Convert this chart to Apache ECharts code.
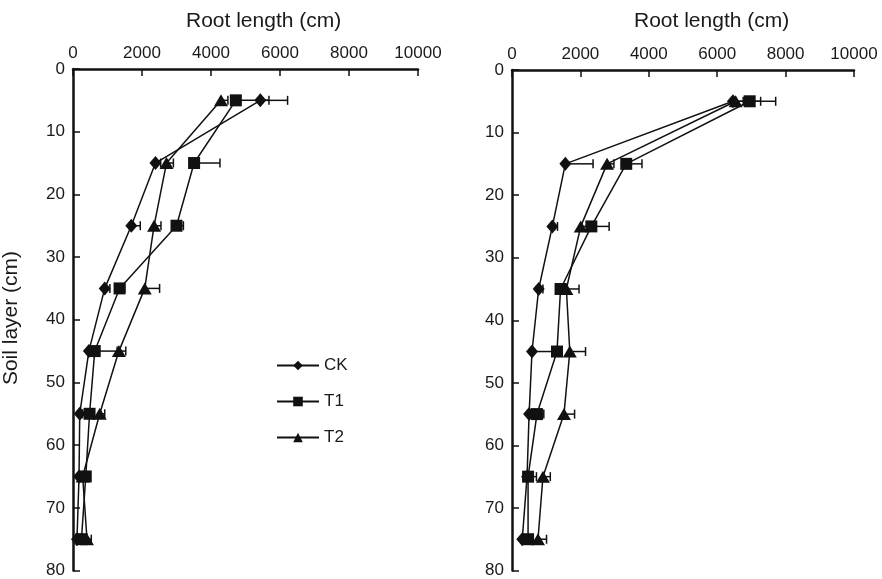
<!DOCTYPE html>
<html>
<head>
<meta charset="utf-8">
<script src="https://cdn.jsdelivr.net/npm/echarts@6/dist/echarts.min.js"></script>
<style>
html, body { margin: 0; padding: 0; background: #fff; }
#chart { width: 882px; height: 579px; }
</style>
</head>
<body>
<div id="chart"></div>
<script>
// soil depth (cm), midpoints of each layer
var depths = [5, 15, 25, 35, 45, 55, 65, 75];

// left panel: root length (cm)
var ckLeft = [5430, 2390, 1690, 920, 460, 195, 175, 115];
var t1Left = [4720, 3510, 3000, 1350, 630, 480, 370, 245];
var t2Left = [4290, 2710, 2350, 2080, 1330, 775, 280, 405];
var ckLeftSd = [790, 150, 260, 150, 150, 80, 60, 50];
var t1LeftSd = [960, 750, 200, 150, 650, 120, 80, 60];
var t2LeftSd = [200, 200, 200, 430, 200, 145, 80, 125];

// right panel: root length (cm)
var ckRight = [6460, 1560, 1180, 780, 585, 500, 440, 300];
var t1Right = [6950, 3340, 2320, 1420, 1315, 730, 470, 470];
var t2Right = [6540, 2780, 2010, 1590, 1690, 1520, 905, 760];
var ckRightSd = [300, 810, 150, 125, 700, 60, 60, 50];
var t1RightSd = [760, 460, 520, 150, 150, 200, 245, 80];
var t2RightSd = [730, 200, 200, 370, 460, 310, 215, 250];

var FONT = "Liberation Sans";
var chart = echarts.init(document.getElementById("chart"));

function pairs(vals) {
  return vals.map(function (v, i) { return [v, depths[i]]; });
}
function errPairs(vals, sd) {
  return vals.map(function (v, i) { return [v, depths[i], v + sd[i]]; });
}

function xAxisFor(idx) {
  return {
    gridIndex: idx,
    type: "value",
    position: "top",
    min: 0,
    max: 10000,
    interval: 2000,
    splitLine: { show: false },
    axisLine: { show: true, lineStyle: { color: "#111", width: 2.5 } },
    axisTick: { show: true, inside: true, length: 7, lineStyle: { color: "#111", width: 1.5 } },
    axisLabel: { color: "#1a1a1a", fontSize: 17, fontFamily: FONT, margin: 7, formatter: function (v) { return String(v); } }
  };
}
function yAxisFor(idx) {
  return {
    gridIndex: idx,
    type: "value",
    inverse: true,
    min: 0,
    max: 80,
    interval: 10,
    splitLine: { show: false },
    axisLine: { show: true, lineStyle: { color: "#111", width: 2.5 } },
    axisTick: { show: true, inside: true, length: 7, lineStyle: { color: "#111", width: 1.5 } },
    axisLabel: { color: "#1a1a1a", fontSize: 17, fontFamily: FONT, margin: 8 }
  };
}

function lineSeries(name, idx, vals, symbol, size) {
  return {
    name: name,
    type: "line",
    xAxisIndex: idx,
    yAxisIndex: idx,
    data: pairs(vals),
    symbol: symbol,
    symbolSize: size,
    showAllSymbol: true,
    color: "#111",
    lineStyle: { color: "#111", width: 1.5 },
    itemStyle: { color: "#111" },
    z: 3
  };
}

// horizontal one-sided error bar with a cap at the end
function errSeries(name, idx, vals, sd) {
  return {
    name: name + " sd",
    type: "custom",
    xAxisIndex: idx,
    yAxisIndex: idx,
    data: errPairs(vals, sd),
    z: 2,
    renderItem: function (params, api) {
      var p0 = api.coord([api.value(0), api.value(1)]);
      var p1 = api.coord([api.value(2), api.value(1)]);
      var h = 4.5;
      return {
        type: "group",
        children: [
          { type: "line", shape: { x1: p0[0], y1: p0[1], x2: p1[0], y2: p1[1] }, style: { stroke: "#111", lineWidth: 1.5 } },
          { type: "line", shape: { x1: p1[0], y1: p1[1] - h, x2: p1[0], y2: p1[1] + h }, style: { stroke: "#111", lineWidth: 1.5 } }
        ]
      };
    }
  };
}

var series = [];
[[0, ckLeft, t1Left, t2Left, ckLeftSd, t1LeftSd, t2LeftSd],
 [1, ckRight, t1Right, t2Right, ckRightSd, t1RightSd, t2RightSd]].forEach(function (p) {
  var i = p[0];
  series.push(lineSeries("CK", i, p[1], "diamond", [12, 14]));
  series.push(lineSeries("T1", i, p[2], "rect", [12, 12]));
  series.push(lineSeries("T2", i, p[3], "triangle", [14, 12]));
  series.push(errSeries("CK", i, p[1], p[4]));
  series.push(errSeries("T1", i, p[2], p[5]));
  series.push(errSeries("T2", i, p[3], p[6]));
});

var option = {
  animation: false,
  backgroundColor: "#fff",
  textStyle: { fontFamily: FONT },
  grid: [
    { left: 73, top: 69, width: 345, height: 502 },
    { left: 512, top: 70, width: 342, height: 501 }
  ],
  xAxis: [xAxisFor(0), xAxisFor(1)],
  yAxis: [yAxisFor(0), yAxisFor(1)],
  legend: {
    data: ["CK", "T1", "T2"],
    orient: "vertical",
    left: 276,
    top: 357,
    padding: 0,
    itemWidth: 42,
    itemHeight: 12,
    itemGap: 19,
    selectedMode: false,
    textStyle: { fontSize: 17, fontFamily: FONT, color: "#1a1a1a" }
  },
  graphic: [
    { type: "text", left: 266 - 80, top: 11, style: { text: "Root length (cm)", font: "21px " + FONT, fill: "#1a1a1a" } },
    { type: "text", left: 714 - 80, top: 11, style: { text: "Root length (cm)", font: "21px " + FONT, fill: "#1a1a1a" } },
    { type: "text", x: 11, y: 318, rotation: Math.PI / 2, style: { text: "Soil layer (cm)", font: "21px " + FONT, fill: "#1a1a1a", align: "center", verticalAlign: "middle" } }
  ],
  series: series
};

chart.setOption(option);
</script>
</body>
</html>
